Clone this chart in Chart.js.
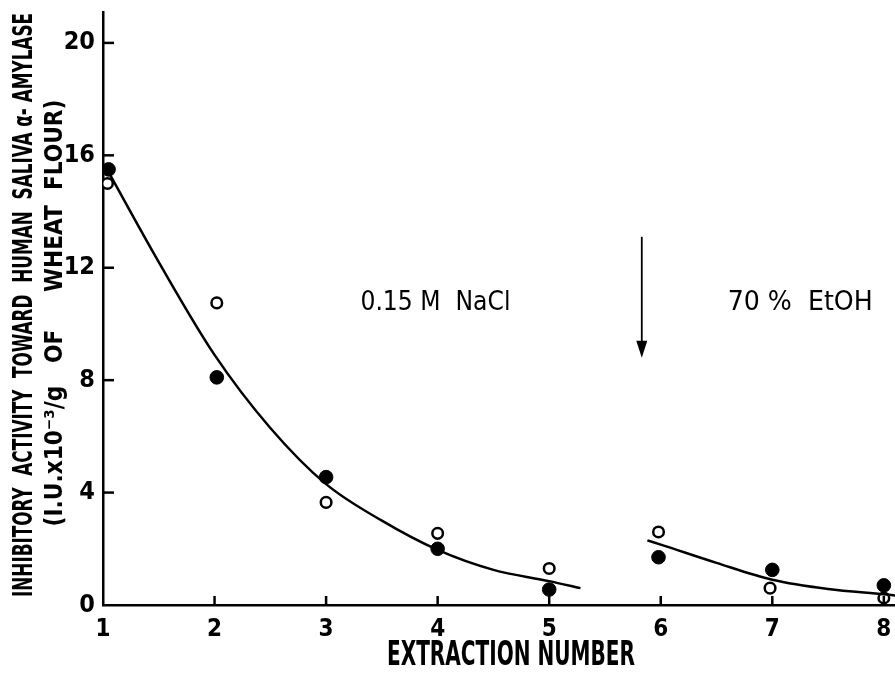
<!DOCTYPE html>
<html>
<head>
<meta charset="utf-8">
<script src="https://cdn.jsdelivr.net/npm/chart.js@4.4.1/dist/chart.umd.min.js"></script>
<style>
  html, body { margin: 0; padding: 0; background: #fff; }
  #wrap { width: 895px; height: 674px; }
</style>
</head>
<body>
<div id="wrap"><canvas id="amylaseChart" width="895" height="674"></canvas></div>
<script>
// values: inhibitory activity per extraction
const filledX = [1.05, 2.02, 3.0, 4.0, 5.0, 5.98, 7.0, 8.0];
const filledY = [15.5, 8.1, 4.55, 2.0, 0.55, 1.7, 1.25, 0.7];
const openX = [1.04, 2.02, 3.0, 4.0, 5.0, 5.98, 6.98, 8.0];
const openY = [15.0, 10.75, 3.65, 2.55, 1.3, 2.6, 0.6, 0.25];

// hand drawn fitted curves
const curveNaClX = [1.05, 1.5, 2.0, 2.5, 3.0, 3.5, 4.0, 4.5, 5.0, 5.28];
const curveNaClY = [15.4, 12.2, 8.9, 6.3, 4.3, 3.0, 1.96, 1.25, 0.85, 0.6];
const curveEtOHX = [5.88, 6.0, 6.5, 7.0, 7.5, 8.0, 8.1];
const curveEtOHY = [2.3, 2.15, 1.5, 0.9, 0.57, 0.38, 0.34];

const xTicks = [1, 2, 3, 4, 5, 6, 7, 8];
const yTicks = [0, 4, 8, 12, 16, 20];

const xTitle = 'EXTRACTION NUMBER';
const yTitle = ['INHIBITORY  ACTIVITY  TOWARD  HUMAN  SALIVA \u03b1- AMYLASE',
                '(I.U.x10\u207b\u00b3/g   OF     WHEAT  FLOUR)'];

// text notes in data units
const notes = [
    {text: '0.15 M  NaCl', x: 3.98, y: 10.75},
    {text: '70 %  EtOH', x: 7.25, y: 10.75}
];
const noteWidths = [150, 145];
const arrowX = 5.83;
const arrowFrom = 13.1;
const arrowTo = 8.8;

const FONT = "'Liberation Sans Narrow', 'DejaVu Sans Condensed', 'Roboto', sans-serif";

function toPoints(xs, ys)
{
    return xs.map(function (v, i) { return {x: v, y: ys[i]}; });
}

// draws text squeezed to a given width, like the narrow lettering of the figure
function drawFitted(ctx, text, cx, cy, width, font, vertical)
{
    ctx.save();
    ctx.translate(cx, cy);
    if (vertical) ctx.rotate(-Math.PI / 2);
    ctx.font = font;
    const w = ctx.measureText(text).width;
    ctx.scale(width / w, 1);
    ctx.textAlign = 'center';
    ctx.textBaseline = 'middle';
    ctx.fillText(text, 0, 0);
    ctx.restore();
}

// inward tick marks, titles, text notes and the arrow
const extrasPlugin = {
    id: 'extras',
    afterDraw: function (chart) {
        const ctx = chart.ctx;
        const x = chart.scales.x;
        const y = chart.scales.y;
        ctx.save();
        ctx.strokeStyle = '#000';
        ctx.fillStyle = '#000';
        ctx.lineWidth = 2.5;
        xTicks.forEach(function (t) {
            if (t === x.min) return;
            const px = x.getPixelForValue(t);
            ctx.beginPath();
            ctx.moveTo(px, y.bottom);
            ctx.lineTo(px, y.bottom - 9);
            ctx.stroke();
        });
        yTicks.forEach(function (t) {
            if (t === y.min) return;
            const py = y.getPixelForValue(t);
            ctx.beginPath();
            ctx.moveTo(x.left, py);
            ctx.lineTo(x.left + 11, py);
            ctx.stroke();
        });

        drawFitted(ctx, yTitle[0], 25, 305, 584, 'bold 27px ' + FONT, true);
        drawFitted(ctx, yTitle[1], 55, 313, 427, 'bold 25px ' + FONT, true);
        drawFitted(ctx, xTitle, 511, 656, 248, 'bold 33px ' + FONT, false);

        notes.forEach(function (n, i) {
            drawFitted(ctx, n.text, x.getPixelForValue(n.x), y.getPixelForValue(n.y),
                       noteWidths[i], '27px ' + FONT, false);
        });

        const ax = x.getPixelForValue(arrowX);
        const y1 = y.getPixelForValue(arrowFrom);
        const y2 = y.getPixelForValue(arrowTo);
        ctx.lineWidth = 1.8;
        ctx.beginPath();
        ctx.moveTo(ax, y1);
        ctx.lineTo(ax, y2 - 10);
        ctx.stroke();
        ctx.beginPath();
        ctx.moveTo(ax - 5.5, y2 - 17);
        ctx.lineTo(ax + 5.5, y2 - 17);
        ctx.lineTo(ax, y2);
        ctx.closePath();
        ctx.fill();
        ctx.restore();
    }
};

const ctx = document.getElementById('amylaseChart').getContext('2d');
const myChart = new Chart(ctx, {
    type: 'scatter',
    data: {
        datasets: [
            {
                label: 'curve NaCl',
                data: toPoints(curveNaClX, curveNaClY),
                showLine: true,
                borderColor: '#000',
                borderWidth: 2.5,
                pointRadius: 0,
                tension: 0.4,
                cubicInterpolationMode: 'monotone'
            },
            {
                label: 'curve EtOH',
                data: toPoints(curveEtOHX, curveEtOHY),
                showLine: true,
                borderColor: '#000',
                borderWidth: 2.5,
                pointRadius: 0,
                tension: 0.4,
                cubicInterpolationMode: 'monotone'
            },
            {
                label: 'filled',
                data: toPoints(filledX, filledY),
                pointRadius: 6.8,
                pointBackgroundColor: '#000',
                pointBorderColor: '#000',
                pointBorderWidth: 1
            },
            {
                label: 'open',
                data: toPoints(openX, openY),
                pointRadius: 5.3,
                pointBackgroundColor: '#fff',
                pointBorderColor: '#000',
                pointBorderWidth: 2.5
            }
        ]
    },
    options: {
        responsive: false,
        animation: false,
        layout: {autoPadding: false, padding: {top: 12, right: 0, left: 0, bottom: 0}},
        plugins: {
            legend: {display: false},
            tooltip: {enabled: false}
        },
        scales: {
            x: {
                type: 'linear',
                min: 1,
                max: 8.1,
                afterFit: function (scale) {
                    scale.height = 69;
                    scale.paddingLeft = 0;
                    scale.paddingRight = 0;
                },
                afterBuildTicks: function (scale) {
                    scale.ticks = xTicks.map(function (v) { return {value: v}; });
                },
                ticks: {
                    color: '#000',
                    padding: 10,
                    font: {family: FONT, size: 24, weight: 'bold'}
                },
                grid: {display: false, drawTicks: false},
                border: {display: true, color: '#000', width: 2.5}
            },
            y: {
                min: 0,
                max: 21.1,
                afterFit: function (scale) {
                    scale.width = 103;
                    scale.paddingTop = 0;
                    scale.paddingBottom = 0;
                },
                afterBuildTicks: function (scale) {
                    scale.ticks = yTicks.map(function (v) { return {value: v}; });
                },
                ticks: {
                    color: '#000',
                    padding: 8,
                    font: {family: FONT, size: 25, weight: 'bold'}
                },
                grid: {display: false, drawTicks: false},
                border: {display: true, color: '#000', width: 2.5}
            }
        }
    },
    plugins: [extrasPlugin]
});
</script>
</body>
</html>
